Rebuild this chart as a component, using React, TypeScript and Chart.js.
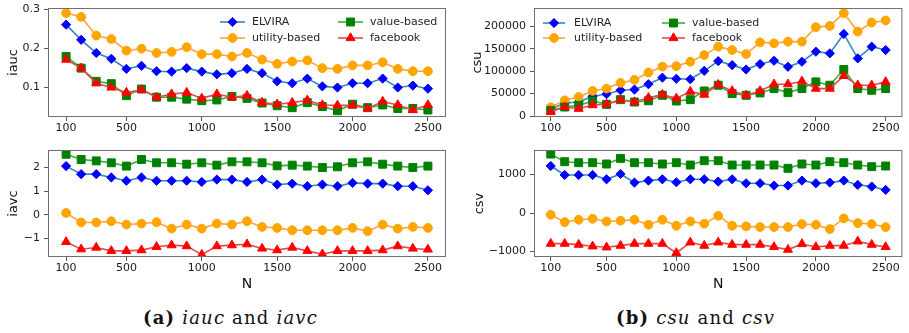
import React, { useEffect, useRef } from 'react';
import { Chart, registerables } from 'chart.js';

Chart.register(...registerables);

// ---------- data ----------
const N = [100, 200, 300, 400, 500, 600, 700, 800, 900, 1000, 1100, 1200, 1300, 1400, 1500, 1600, 1700, 1800, 1900, 2000, 2100, 2200, 2300, 2400, 2500];
const X_TICKS = [100, 500, 1000, 1500, 2000, 2500];
const SERIES_NAMES = ['ELVIRA', 'utility-based', 'value-based', 'facebook'];

const IAUC_ELVIRA = [0.261, 0.222, 0.188, 0.173, 0.147, 0.155, 0.141, 0.140, 0.149, 0.140, 0.133, 0.136, 0.147, 0.136, 0.115, 0.110, 0.122, 0.102, 0.099, 0.110, 0.110, 0.122, 0.099, 0.104, 0.096];
const IAUC_UTILITY = [0.291, 0.281, 0.233, 0.224, 0.194, 0.199, 0.188, 0.191, 0.203, 0.185, 0.185, 0.179, 0.188, 0.171, 0.160, 0.166, 0.169, 0.149, 0.147, 0.156, 0.156, 0.164, 0.147, 0.141, 0.141];
const IAUC_VALUE = [0.179, 0.149, 0.115, 0.109, 0.078, 0.095, 0.074, 0.074, 0.069, 0.065, 0.067, 0.076, 0.071, 0.059, 0.052, 0.047, 0.060, 0.050, 0.039, 0.056, 0.047, 0.054, 0.045, 0.045, 0.041];
const IAUC_FACEBOOK = [0.171, 0.149, 0.110, 0.099, 0.086, 0.093, 0.074, 0.082, 0.086, 0.071, 0.082, 0.074, 0.078, 0.060, 0.056, 0.060, 0.066, 0.054, 0.053, 0.053, 0.045, 0.063, 0.054, 0.041, 0.054];

const IAVC_ELVIRA = [2.06, 1.72, 1.72, 1.58, 1.44, 1.58, 1.44, 1.44, 1.44, 1.39, 1.49, 1.49, 1.39, 1.49, 1.28, 1.32, 1.21, 1.28, 1.21, 1.35, 1.32, 1.32, 1.21, 1.21, 1.04];
const IAVC_UTILITY = [0.08, -0.32, -0.32, -0.27, -0.41, -0.37, -0.31, -0.58, -0.41, -0.58, -0.37, -0.41, -0.27, -0.51, -0.55, -0.65, -0.65, -0.65, -0.65, -0.55, -0.69, -0.41, -0.58, -0.51, -0.55];
const IAVC_VALUE = [2.56, 2.34, 2.28, 2.20, 2.06, 2.34, 2.20, 2.20, 2.14, 2.20, 2.10, 2.24, 2.24, 2.20, 2.07, 2.10, 2.06, 2.00, 2.03, 2.20, 2.24, 2.14, 2.06, 2.00, 2.06];
const IAVC_FACEBOOK = [-1.14, -1.45, -1.38, -1.52, -1.52, -1.49, -1.35, -1.28, -1.32, -1.68, -1.32, -1.28, -1.24, -1.42, -1.49, -1.38, -1.52, -1.66, -1.52, -1.52, -1.52, -1.49, -1.32, -1.42, -1.46];

const CSU_ELVIRA = [15500, 29000, 31300, 44000, 49000, 57500, 59000, 70900, 85500, 83000, 82000, 100700, 122400, 113400, 103700, 115700, 123100, 109700, 120900, 143300, 139600, 182800, 128400, 154500, 147000];
const CSU_UTILITY = [19500, 35100, 42500, 56000, 61200, 73900, 80500, 97000, 110000, 111200, 120900, 135800, 154500, 147000, 138100, 164200, 161900, 165700, 165700, 197800, 200700, 229100, 188100, 208200, 212700];
const CSU_VALUE = [12700, 20100, 23900, 33600, 26100, 36600, 31300, 34000, 46300, 33500, 36600, 56000, 68700, 50000, 46300, 51500, 61200, 52200, 61200, 76100, 68700, 103700, 61200, 57500, 61200];
const CSU_FACEBOOK = [9500, 20100, 16400, 24500, 26500, 36000, 31300, 40800, 47800, 39500, 54500, 47800, 70100, 56000, 46300, 56000, 70900, 70900, 77600, 61200, 61200, 89600, 68700, 68700, 76100];

const CSV_ELVIRA = [1224, 991, 991, 991, 879, 1017, 793, 845, 879, 802, 879, 879, 819, 879, 776, 776, 716, 716, 845, 776, 793, 845, 733, 690, 603];
const CSV_UTILITY = [-43, -233, -172, -147, -216, -198, -172, -302, -172, -328, -216, -276, -69, -328, -345, -362, -362, -362, -284, -302, -414, -138, -259, -284, -362];
const CSV_VALUE = [1534, 1336, 1310, 1310, 1276, 1422, 1310, 1310, 1276, 1310, 1250, 1362, 1362, 1250, 1250, 1250, 1250, 1164, 1276, 1250, 1336, 1310, 1250, 1207, 1224];
const CSV_FACEBOOK = [-793, -793, -819, -862, -888, -845, -793, -793, -793, -1034, -759, -845, -759, -819, -819, -819, -879, -948, -802, -879, -845, -845, -733, -819, -879];

const IAUC_TICKS = [0.1, 0.2, 0.3];
const IAUC_TICK_LABELS = ['0.1', '0.2', '0.3'];
const IAVC_TICKS = [-1, 0, 1, 2];
const IAVC_TICK_LABELS = ['\u22121', '0', '1', '2'];
const CSU_TICKS = [0, 50000, 100000, 150000, 200000];
const CSU_TICK_LABELS = ['0', '50000', '100000', '150000', '200000'];
const CSV_TICKS = [-1000, 0, 1000];
const CSV_TICK_LABELS = ['\u22121000', '0', '1000'];

// ---------- styles ----------
const STYLES = [
  { line: '#3584c8', marker: '#0000ff', shape: 'rectRot', r: 4.6, order: 3 },
  { line: '#ffa63a', marker: '#ffa500', shape: 'circle', r: 4.4, order: 2 },
  { line: '#3faa3f', marker: '#008000', shape: 'rect', r: 5.6, order: 1 },
  { line: '#e54a4a', marker: '#ff0000', shape: 'triangle', r: 5.2, order: 0 },
];

const FONT = '"DejaVu Sans", sans-serif';

function drawMarker(ctx: CanvasRenderingContext2D, shape: string, x: number, y: number, r: number, color: string) {
  ctx.save();
  ctx.fillStyle = color;
  ctx.strokeStyle = color;
  ctx.lineWidth = 1;
  ctx.beginPath();
  if (shape === 'circle') {
    ctx.arc(x, y, r, 0, Math.PI * 2);
  } else if (shape === 'rect') {
    const s = r * Math.SQRT1_2;
    ctx.rect(x - s, y - s, 2 * s, 2 * s);
  } else if (shape === 'rectRot') {
    ctx.moveTo(x - r, y);
    ctx.lineTo(x, y - r);
    ctx.lineTo(x + r, y);
    ctx.lineTo(x, y + r);
    ctx.closePath();
  } else {
    for (let k = 0; k < 3; k++) {
      const a = k * (2 * Math.PI / 3);
      const px = x + Math.sin(a) * r;
      const py = y - Math.cos(a) * r;
      if (k === 0) ctx.moveTo(px, py); else ctx.lineTo(px, py);
    }
    ctx.closePath();
  }
  ctx.fill();
  ctx.stroke();
  ctx.restore();
}

type LegendPos = { cols: { x0: number; x1: number; tx: number }[]; rows: number[] };

type PanelCfg = {
  series: number[][];
  yMin: number;
  yMax: number;
  yTicks: number[];
  yTickLabels: string[];
  yTitle: string;
  yTitleSize: number;
  yTitlePad: number;
  yWidth: number;
  xHeight: number;
  xTitle?: string;
  xTitlePad?: number;
  padTop: number;
  padRight: number;
  legend?: LegendPos;
};

function buildChart(canvas: HTMLCanvasElement, cfg: PanelCfg) {
  const datasets = cfg.series.map((vals, i) => {
    const st = STYLES[i];
    return {
      label: SERIES_NAMES[i],
      data: N.map((n, j) => ({ x: n, y: vals[j] })),
      borderColor: st.line,
      backgroundColor: st.marker,
      borderWidth: 1.6,
      pointStyle: st.shape as any,
      pointRadius: st.r,
      pointBackgroundColor: st.marker,
      pointBorderColor: st.marker,
      pointBorderWidth: 1,
      tension: 0,
      order: st.order,
      fill: false,
    };
  });

  const framePlugin = {
    id: 'frame' + Math.random().toString(36).slice(2),
    afterDatasetsDraw(chart: any) {
      const { ctx, chartArea } = chart;
      ctx.save();
      ctx.strokeStyle = '#707070';
      ctx.lineWidth = 1;
      ctx.strokeRect(chartArea.left + 0.5, chartArea.top + 0.5, chartArea.right - chartArea.left - 1, chartArea.bottom - chartArea.top - 1);
      const lg = cfg.legend;
      if (lg) {
        const order = [[0, 1], [2, 3]];
        ctx.font = '11px ' + FONT;
        ctx.textBaseline = 'middle';
        ctx.textAlign = 'left';
        order.forEach((col, ci) => {
          col.forEach((si, ri) => {
            const st = STYLES[si];
            const y = lg.rows[ri];
            const c = lg.cols[ci];
            ctx.strokeStyle = st.line;
            ctx.lineWidth = 1.6;
            ctx.beginPath();
            ctx.moveTo(c.x0, y);
            ctx.lineTo(c.x1, y);
            ctx.stroke();
            drawMarker(ctx, st.shape, (c.x0 + c.x1) / 2, y, st.r, st.marker);
            ctx.fillStyle = '#262626';
            ctx.fillText(SERIES_NAMES[si], c.tx, y + 0.5);
          });
        });
      }
      ctx.restore();
    },
  };

  return new Chart(canvas, {
    type: 'line',
    data: { datasets },
    plugins: [framePlugin],
    options: {
      animation: false,
      responsive: false,
      maintainAspectRatio: false,
      devicePixelRatio: 1,
      layout: { padding: { top: cfg.padTop, right: cfg.padRight, left: 0, bottom: 0 } },
      plugins: { legend: { display: false }, tooltip: { enabled: false }, title: { display: false } },
      scales: {
        x: {
          type: 'linear',
          min: -20,
          max: 2620,
          afterBuildTicks: (scale: any) => {
            scale.ticks = X_TICKS.map((v) => ({ value: v }));
          },
          afterFit: (scale: any) => {
            scale.height = cfg.xHeight;
            scale.paddingLeft = 0;
            scale.paddingRight = 0;
          },
          ticks: {
            autoSkip: false,
            maxRotation: 0,
            padding: 1,
            color: '#1a1a1a',
            font: { family: FONT, size: 11 },
            callback: (v: any) => String(v),
          },
          grid: { display: true, drawOnChartArea: false, drawTicks: true, tickLength: 4, color: '#555', lineWidth: 1 },
          border: { display: false },
          title: cfg.xTitle
            ? { display: true, text: cfg.xTitle, color: '#111', font: { family: FONT, size: 14 }, padding: { top: 0, bottom: cfg.xTitlePad || 0 } }
            : { display: false },
        },
        y: {
          type: 'linear',
          min: cfg.yMin,
          max: cfg.yMax,
          afterBuildTicks: (scale: any) => {
            scale.ticks = cfg.yTicks.map((v) => ({ value: v }));
          },
          afterFit: (scale: any) => {
            scale.width = cfg.yWidth;
            scale.paddingTop = 0;
            scale.paddingBottom = 0;
          },
          ticks: {
            autoSkip: false,
            padding: 4,
            color: '#1a1a1a',
            font: { family: FONT, size: 11 },
            callback: (_v: any, idx: number) => cfg.yTickLabels[idx],
          },
          grid: { display: true, drawOnChartArea: false, drawTicks: true, tickLength: 4, color: '#555', lineWidth: 1 },
          border: { display: false },
          title: { display: true, text: cfg.yTitle, color: '#111', font: { family: FONT, size: cfg.yTitleSize }, padding: { top: cfg.yTitlePad, bottom: 0 } },
        },
      },
    } as any,
  });
}

const PANEL_STYLE = (left: number, top: number, w: number, h: number): React.CSSProperties => ({
  position: 'absolute',
  left,
  top,
  width: w,
  height: h,
  display: 'block',
});

export default function App() {
  const tl = useRef<HTMLCanvasElement>(null);
  const bl = useRef<HTMLCanvasElement>(null);
  const tr = useRef<HTMLCanvasElement>(null);
  const br = useRef<HTMLCanvasElement>(null);

  useEffect(() => {
    const charts: Chart[] = [];
    charts.push(
      buildChart(tl.current!, {
        series: [IAUC_ELVIRA, IAUC_UTILITY, IAUC_VALUE, IAUC_FACEBOOK],
        yMin: 0.023, yMax: 0.304,
        yTicks: IAUC_TICKS, yTickLabels: IAUC_TICK_LABELS,
        yTitle: 'iauc', yTitleSize: 13, yTitlePad: 6,
        yWidth: 48, xHeight: 23, padTop: 8, padRight: 14,
        legend: { cols: [{ x0: 220, x1: 245, tx: 252 }, { x0: 338, x1: 363, tx: 370 }], rows: [22, 38] },
      })
    );
    charts.push(
      buildChart(bl.current!, {
        series: [IAVC_ELVIRA, IAVC_UTILITY, IAVC_VALUE, IAVC_FACEBOOK],
        yMin: -1.78, yMax: 2.74,
        yTicks: IAVC_TICKS, yTickLabels: IAVC_TICK_LABELS,
        yTitle: 'iavc', yTitleSize: 13, yTitlePad: 6,
        yWidth: 48, xHeight: 43, padTop: 10, padRight: 14,
        xTitle: 'N', xTitlePad: 7,
      })
    );
    charts.push(
      buildChart(tr.current!, {
        series: [CSU_ELVIRA, CSU_UTILITY, CSU_VALUE, CSU_FACEBOOK],
        yMin: -2000, yMax: 240500,
        yTicks: CSU_TICKS, yTickLabels: CSU_TICK_LABELS,
        yTitle: 'csu', yTitleSize: 13, yTitlePad: 10,
        yWidth: 74, xHeight: 23, padTop: 8, padRight: 0,
        legend: { cols: [{ x0: 83, x1: 105, tx: 114 }, { x0: 202, x1: 225, tx: 232 }], rows: [23, 38] },
      })
    );
    charts.push(
      buildChart(br.current!, {
        series: [CSV_ELVIRA, CSV_UTILITY, CSV_VALUE, CSV_FACEBOOK],
        yMin: -1140, yMax: 1640,
        yTicks: CSV_TICKS, yTickLabels: CSV_TICK_LABELS,
        yTitle: 'csv', yTitleSize: 13, yTitlePad: 12,
        yWidth: 74, xHeight: 43, padTop: 10, padRight: 0,
        xTitle: 'N', xTitlePad: 7,
      })
    );
    return () => charts.forEach((c) => c.destroy());
  }, []);

  const capStyle = (left: number): React.CSSProperties => ({
    position: 'absolute',
    left,
    top: 309,
    fontFamily: '"DejaVu Serif", serif',
    fontSize: 18,
    lineHeight: '18px',
    letterSpacing: '1.2px',
    whiteSpace: 'nowrap',
    color: '#111',
  });

  return (
    <div style={{ position: 'absolute', left: 0, top: 0, width: 909, height: 333, background: '#fff', overflow: 'hidden' }}>
      <canvas ref={tl} width={460} height={140} style={PANEL_STYLE(0, 0, 460, 140)} />
      <canvas ref={bl} width={460} height={160} style={PANEL_STYLE(0, 140, 460, 160)} />
      <canvas ref={tr} width={449} height={140} style={PANEL_STYLE(460, 0, 449, 140)} />
      <canvas ref={br} width={449} height={160} style={PANEL_STYLE(460, 140, 449, 160)} />
      <div style={capStyle(143)}>
        <span style={{ fontWeight: 600 }}>(a)</span> <i>iauc</i> and <i>iavc</i>
      </div>
      <div style={capStyle(616)}>
        <span style={{ fontWeight: 600 }}>(b)</span> <i>csu</i> and <i>csv</i>
      </div>
    </div>
  );
}
